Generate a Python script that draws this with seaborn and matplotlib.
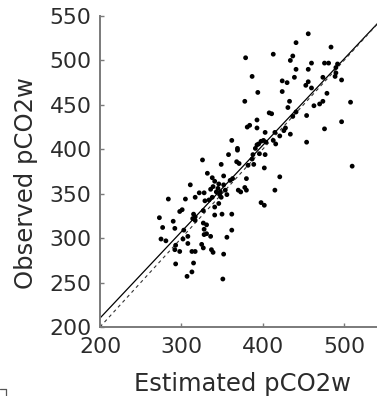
import matplotlib
matplotlib.use("Agg")
import matplotlib.pyplot as plt
import seaborn as sns
import pandas as pd
from matplotlib.lines import Line2D

# ---- data ----
estimated = [
    379, 387, 378,
    456, 441, 484, 413, 437, 434, 460, 476, 481, 492, 441, 456, 490, 439, 474, 489, 490,
    497, 424, 430, 456, 453, 460, 394, 424, 479, 433, 508, 463, 470, 474, 431, 408,
    384, 381, 362, 369, 369, 326, 358, 349, 368, 371, 382, 332, 338, 352, 380, 311,
    341, 346, 339, 352, 360, 363, 370, 373, 378, 380, 322, 328, 336, 343, 347, 349,
    338, 317, 305, 284, 354, 356,
    411, 393, 393, 437, 441, 454, 497, 476, 403, 415, 428, 426, 434, 421, 401, 398,
    395, 404, 413, 416, 454, 391, 393, 388, 387, 389, 396, 403, 402, 510, 421, 415,
    329, 334,
    301, 298, 341, 346, 273, 315, 317, 314, 317, 327, 341, 350, 362, 290, 277, 292,
    327, 331, 303, 328, 331, 328, 336, 362, 356, 308, 308, 302, 275, 281, 325, 327,
    293, 292, 298, 313, 317, 337, 339, 352, 293, 315, 313, 307, 351,
    398, 402, 345, 348,
]
observed = [
    503, 482, 454,
    530, 520, 515, 507, 505, 500, 497, 497, 497, 496, 490, 490, 492, 481, 481, 482, 486,
    478, 477, 475, 476, 472, 469, 464, 465, 463, 454, 453, 449, 451, 454, 447, 441,
    427, 425, 410, 401, 399, 388, 394, 383, 386, 384, 382, 373, 368, 370, 367, 360,
    364, 361, 358, 360, 365, 367, 354, 352, 357, 354, 351, 351, 355, 352, 349, 346,
    346, 346, 344, 344, 354, 349,
    440, 433, 424, 437, 442, 438, 431, 423, 419, 419, 424, 421, 417, 415, 410, 409,
    406, 408, 410, 406, 408, 401, 405, 394, 389, 383, 395, 394, 379, 381, 369, 354,
    342, 343,
    332, 330, 335, 339, 323, 327, 324, 322, 320, 331, 326, 327, 327, 319, 312, 311,
    317, 315, 309, 310, 305, 304, 302, 309, 301, 302, 294, 299, 299, 297, 293, 289,
    292, 287, 285, 285, 285, 287, 284, 282, 271, 272, 262, 257, 254,
    340, 337, 356, 352,
]
fit_slope = 0.972
fit_intercept = 15.6
x_ticks = [200, 300, 400, 500]
y_ticks = [200, 250, 300, 350, 400, 450, 500, 550]
x_label = "Estimated pCO2w"
y_label = "Observed pCO2w"

df = pd.DataFrame({"est": estimated, "obs": observed})

sns.set_theme(style="white")
plt.rcParams["font.family"] = ["DejaVu Sans"]

fig = plt.figure(figsize=(3.77, 3.96), dpi=100)
W, H = 377, 396
left, right, top, bottom = 100, 384.7, 16, 327
ax = fig.add_axes([left / W, 1 - bottom / H, (right - left) / W, (bottom - top) / H])

sns.scatterplot(data=df, x="est", y="obs", ax=ax, s=12, color="black",
                edgecolor="none", linewidth=0, zorder=3)

ax.axline((0, fit_intercept), slope=fit_slope, color="black", lw=0.9, zorder=2)
ax.axline((200, 200), slope=1.0, color="#333333", lw=0.8, ls=(0, (3, 3)), zorder=2)

ax.set_xlim(200, 550)
ax.set_ylim(200, 550)
ax.set_xticks(x_ticks)
ax.set_yticks(y_ticks)

spine_color = "#7a7a7a"
for s in ["top", "right"]:
    ax.spines[s].set_visible(False)
for s in ["left", "bottom"]:
    ax.spines[s].set_color(spine_color)
    ax.spines[s].set_linewidth(1.4)

ax.tick_params(bottom=True, left=True, top=False, right=False,
               direction="in", length=3, width=1.0, color=spine_color,
               labelsize=15.8, labelcolor="#2b2b2b", pad=6)
ax.tick_params(axis="x", pad=7)

ax.set_xlabel(x_label, fontsize=17.5, color="#2b2b2b")
ax.set_ylabel(y_label, fontsize=17.5, color="#2b2b2b")
ax.xaxis.label.set_va("center")
ax.yaxis.label.set_va("center")
ax.xaxis.set_label_coords(0.5, -0.183)
ax.yaxis.set_label_coords(-0.26, 0.463)

# small corner of neighbouring panel at bottom-left
fig.add_artist(Line2D([0 / W, 6 / W], [1 - 389 / H, 1 - 389 / H],
                      transform=fig.transFigure, color="#555555", lw=0.9))
fig.add_artist(Line2D([6 / W, 6 / W], [1 - 389 / H, 0],
                      transform=fig.transFigure, color="#555555", lw=0.9))

fig.savefig("out.png", dpi=100)
